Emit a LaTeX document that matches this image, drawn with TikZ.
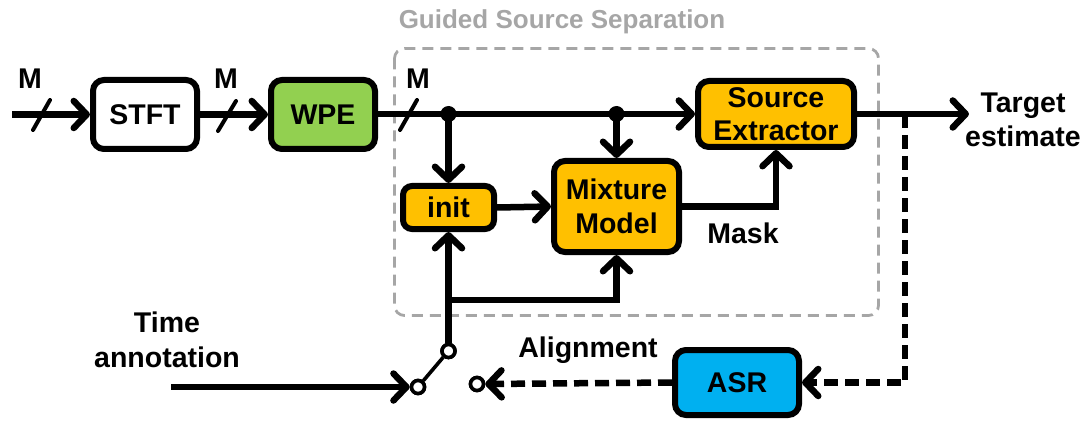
\documentclass[tikz,border=0pt]{standalone}
\usepackage{fontspec}
\setmainfont{Liberation Sans}
\usetikzlibrary{arrows.meta}
\definecolor{boxorange}{HTML}{FFC000}
\definecolor{boxgreen}{HTML}{92D050}
\definecolor{boxblue}{HTML}{00B0F0}
\definecolor{framegray}{HTML}{A6A6A6}
\begin{document}
\begin{tikzpicture}[x=1pt,y=-1pt,
  every node/.style={font=\fontsize{28.5}{34}\selectfont\bfseries},
  block/.style={draw=black,line width=6pt,rounded corners=11pt,align=center,
    inner sep=0pt},
  sig/.style={line width=6.5pt},
  arr/.style={-{Straight Barb[length=13pt,width=27pt,line cap=round,line join=round]}},
  dsig/.style={line width=6.5pt,dash pattern=on 14pt off 7pt},
  chan/.style={line width=4pt,line cap=round},
  contact/.style={circle,draw=black,fill=white,line width=3.6pt,minimum size=13pt,inner sep=0pt},
  junction/.style={circle,fill=black,minimum size=16pt,inner sep=0pt},
  lbl/.style={inner sep=0pt,align=center}]
\useasboundingbox (0,0) rectangle (1086,422);

% frame of the guided source separation stage
\draw[framegray,line width=2.8pt,dash pattern=on 11pt off 7pt,rounded corners=10pt]
  (394.5,48.5) rectangle (878.5,315.5);
\node[lbl,text=framegray,font=\fontsize{26}{30}\selectfont\bfseries] (gsstitle) at (562,22) {Guided Source Separation};

% processing blocks
\node[block,fill=white,minimum width=104pt,minimum height=69pt] (stft) at (145,114.5) {STFT};
\node[block,fill=boxgreen,minimum width=104pt,minimum height=69pt] (wpe) at (323,114.5) {WPE};
\node[block,fill=boxorange,minimum width=156pt,minimum height=66pt] (se) at (776,114) {Source\\[-0.5pt]Extractor};
\node[block,fill=boxorange,minimum width=91pt,minimum height=43pt,rounded corners=9pt] (init) at (448.5,207.5) {init};
\node[block,fill=boxorange,minimum width=125pt,minimum height=91pt] (mm) at (616.5,206.5) {Mixture\\[0.5pt]Model};
\node[block,fill=boxblue,minimum width=124pt,minimum height=65pt] (asr) at (737,382.5) {ASR};

% labels
\node[lbl] (m1) at (30,79) {M};
\node[lbl] (m2) at (226,79) {M};
\node[lbl] (m3) at (418,79) {M};
\node[lbl] (mask) at (743,233) {Mask};
\node[lbl] (align) at (588,350) {Alignment};
\node[lbl] (time) at (167,340) {Time\\[0.5pt]annotation};
\node[lbl] (tgt) at (1023,120) {Target\\estimate};

% junction points and free ends
\coordinate (in) at (12,114.5);
\coordinate (d1) at (init.north |- 0,114);
\coordinate (d2) at (mm.north |- 0,114);
\coordinate (split) at (905,114);
\coordinate (branch) at (448.5,300);
\coordinate (tastart) at (171,387);

% switch contacts
\node[contact] (sw1) at (418,387) {};
\node[contact] (sw2) at (448.5,351) {};
\node[contact] (sw3) at (477,384) {};

% main signal path
\draw[sig,arr] (in) -- (stft.west);
\draw[sig,arr] (stft.east) -- (wpe.west);
\draw[sig,arr] (wpe.east |- 0,114) -- (se.west);
\draw[sig,arr] (d1) -- (init.north);
\draw[sig,arr] (d2) -- (mm.north);
\draw[sig,arr] (init.east) -- (mm.west);
\draw[sig,arr] (mm.east) -| (se.south);
\draw[sig,arr] (se.east) -- ([xshift=4pt]se.east -| tgt.west);
\draw[sig,arr] (sw2.north) -- (init.south);
\draw[sig,arr] (branch) -| (mm.south);
\node[junction] at (d1) {};
\node[junction] at (d2) {};

% channel count marks
\draw[chan] (33,130) -- (50,100);
\draw[chan] (218,131) -- (236,101);
\draw[chan] (400,130) -- (417,100);

% feedback through the recogniser
\draw[dsig,arr] (split) |- (asr.east);
\draw[dsig,arr] (asr.west) -- (sw3.east);

% time annotation input and switch blade
\draw[sig,arr] (tastart) -- (sw1.west);
\draw[line width=3.6pt] (sw1) -- (sw2);
\node[contact] at (sw1) {};
\node[contact] at (sw2) {};
\node[contact] at (sw3) {};
\end{tikzpicture}
\end{document}
